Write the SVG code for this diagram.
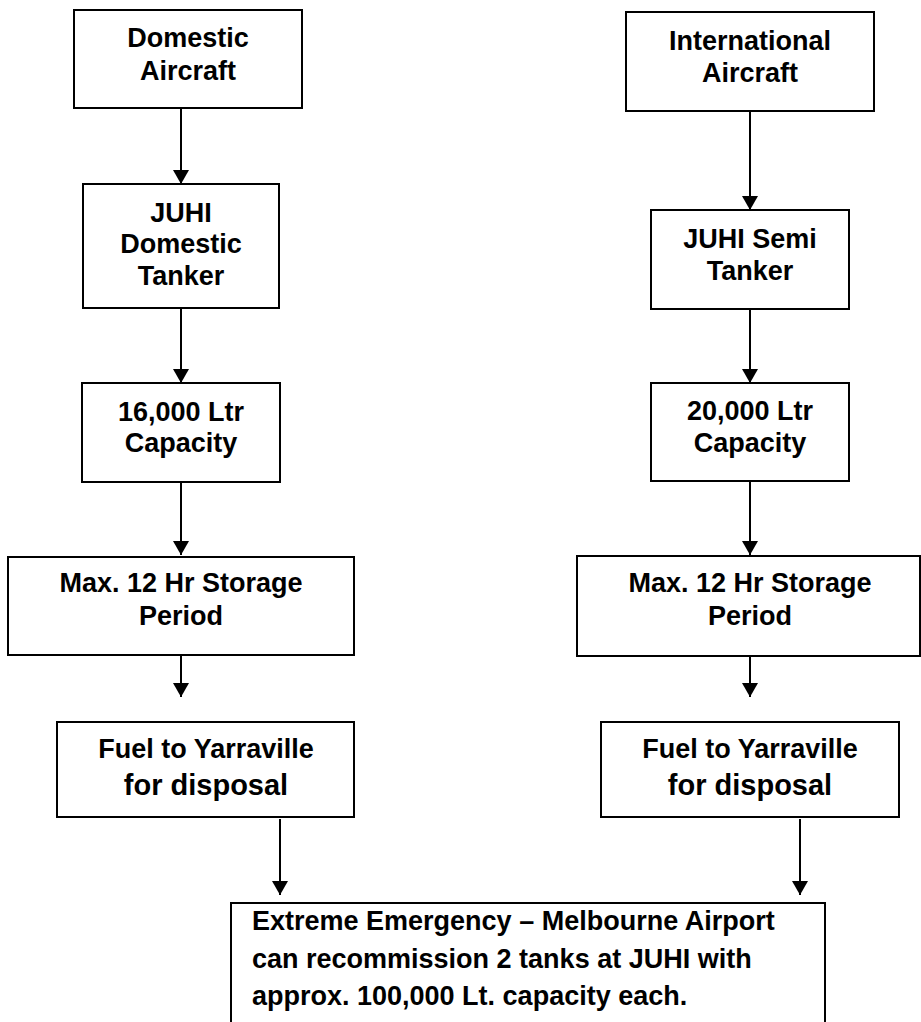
<svg xmlns="http://www.w3.org/2000/svg" width="921" height="1022" viewBox="0 0 921 1022">
  <style>
    .box { fill: #ffffff; stroke: #000000; stroke-width: 2; }
    .t { font-family: "Liberation Sans", Arial, sans-serif; font-weight: bold; font-size: 27px; fill: #000000; text-anchor: middle; }
    .big { font-size: 29px; }
    .left { text-anchor: start; }
    .conn { stroke: #000000; stroke-width: 2; fill: none; marker-end: url(#arrow); }
  </style>
  <defs>
    <marker id="arrow" markerUnits="userSpaceOnUse" viewBox="0 0 14 16" refX="14" refY="8" markerWidth="14" markerHeight="16" orient="auto">
      <path d="M0,0 L14,8 L0,16 z" fill="#000000"/>
    </marker>
  </defs>
  <rect width="921" height="1022" fill="#ffffff"/>

  <g id="connectors">
    <line class="conn" x1="181" y1="108" x2="181" y2="184"/>
    <line class="conn" x1="181" y1="308" x2="181" y2="383"/>
    <line class="conn" x1="181" y1="482" x2="181" y2="555"/>
    <line class="conn" x1="181" y1="655" x2="181" y2="697"/>
    <line class="conn" x1="280" y1="819" x2="280" y2="895"/>
    <line class="conn" x1="750" y1="111" x2="750" y2="210"/>
    <line class="conn" x1="750" y1="309" x2="750" y2="383"/>
    <line class="conn" x1="750" y1="481" x2="750" y2="555"/>
    <line class="conn" x1="750" y1="656" x2="750" y2="697"/>
    <line class="conn" x1="800" y1="819" x2="800" y2="895"/>
  </g>

  <g id="domestic-aircraft">
    <rect class="box" x="74" y="10" width="228" height="98"/>
    <text class="t" x="188" y="47">Domestic</text>
    <text class="t" x="188" y="80">Aircraft</text>
  </g>
  <g id="juhi-domestic-tanker">
    <rect class="box" x="83" y="184" width="196" height="124"/>
    <text class="t" x="181" y="222">JUHI</text>
    <text class="t" x="181" y="253">Domestic</text>
    <text class="t" x="181" y="285">Tanker</text>
  </g>
  <g id="capacity-16000">
    <rect class="box" x="82" y="383" width="198" height="99"/>
    <text class="t" x="181" y="421">16,000 Ltr</text>
    <text class="t" x="181" y="452">Capacity</text>
  </g>
  <g id="storage-left">
    <rect class="box" x="8" y="557" width="346" height="98"/>
    <text class="t" x="181" y="592">Max. 12 Hr Storage</text>
    <text class="t" x="181" y="625">Period</text>
  </g>
  <g id="fuel-left">
    <rect class="box" x="57" y="722" width="297" height="95"/>
    <text class="t" x="206" y="758">Fuel to Yarraville</text>
    <text class="t big" x="206" y="795">for disposal</text>
  </g>

  <g id="international-aircraft">
    <rect class="box" x="626" y="12" width="248" height="99"/>
    <text class="t" x="750" y="50">International</text>
    <text class="t" x="750" y="82">Aircraft</text>
  </g>
  <g id="juhi-semi-tanker">
    <rect class="box" x="651" y="210" width="198" height="99"/>
    <text class="t" x="750" y="248">JUHI Semi</text>
    <text class="t" x="750" y="280">Tanker</text>
  </g>
  <g id="capacity-20000">
    <rect class="box" x="651" y="383" width="198" height="98"/>
    <text class="t" x="750" y="420">20,000 Ltr</text>
    <text class="t" x="750" y="452">Capacity</text>
  </g>
  <g id="storage-right">
    <rect class="box" x="577" y="556" width="343" height="100"/>
    <text class="t" x="750" y="592">Max. 12 Hr Storage</text>
    <text class="t" x="750" y="625">Period</text>
  </g>
  <g id="fuel-right">
    <rect class="box" x="601" y="722" width="298" height="95"/>
    <text class="t" x="750" y="758">Fuel to Yarraville</text>
    <text class="t big" x="750" y="795">for disposal</text>
  </g>

  <g id="emergency">
    <rect class="box" x="231" y="903" width="594" height="130"/>
    <text class="t left" x="252" y="930">Extreme Emergency – Melbourne Airport</text>
    <text class="t left" x="252" y="968">can recommission 2 tanks at JUHI with</text>
    <text class="t left" x="252" y="1005">approx. 100,000 Lt. capacity each.</text>
  </g>
</svg>
